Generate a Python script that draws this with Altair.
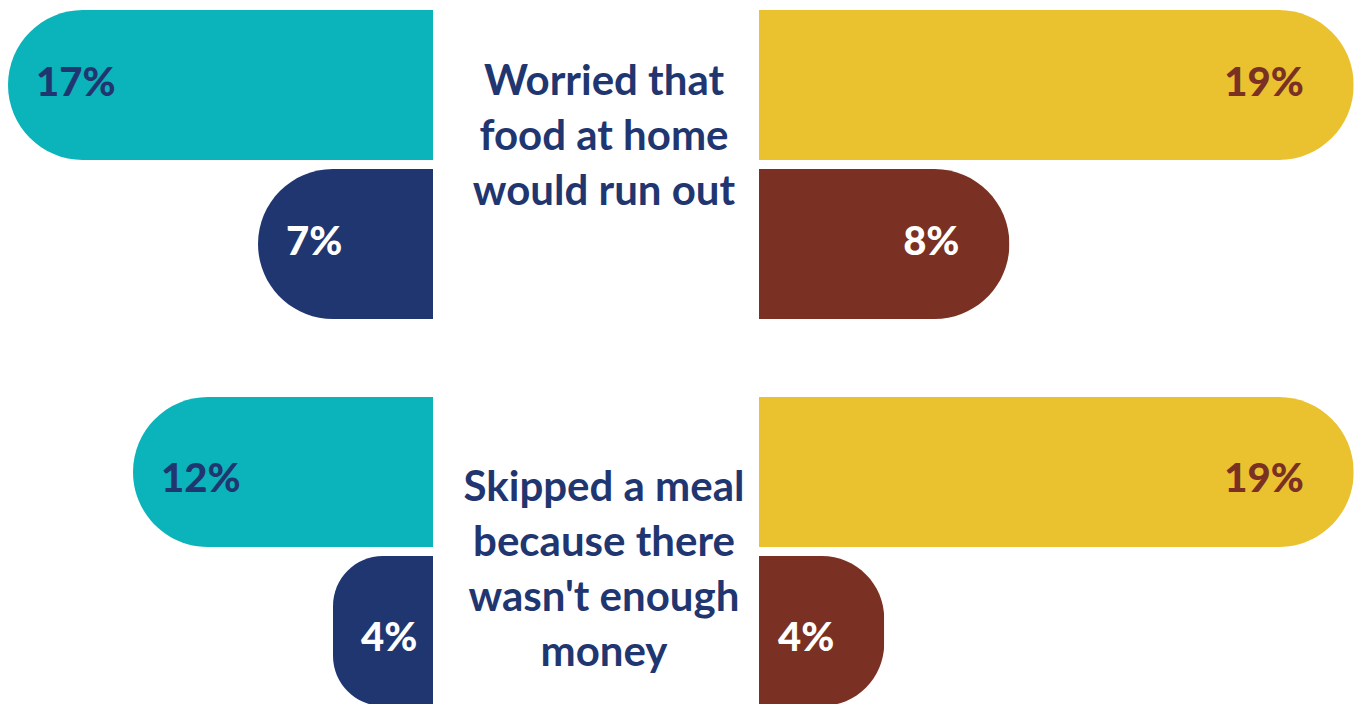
import altair as alt
import pandas as pd

# ---- data ----
topics = ["Worried that\nfood at home\nwould run out",
          "Skipped a meal\nbecause there\nwasn't enough\nmoney"]
left_outer = [17, 12]   # teal bars
left_inner = [7, 4]     # navy bars
right_outer = [19, 19]  # yellow bars
right_inner = [8, 4]    # brown bars

TEAL = "#0BB3BA"
NAVY = "#1F3670"
YELLOW = "#EAC12E"
BROWN = "#7A3022"
FONT = "Lato"

ROW_H = 309
LEFT_W = 425
MID_W = 326
RIGHT_W = 601
text_dy = [-83, -64]
label_dy = [-1, 8]

yscale = alt.Scale(paddingInner=0.0566, paddingOuter=0)


def side(vals, groups, colors, label_colors, domain_max, width, left, ldy):
    df = pd.DataFrame({"group": groups, "value": vals})
    base = alt.Chart(df).transform_calculate(
        label="format(datum.value, 'd') + '%'"
    )
    x = alt.X("value:Q", axis=None,
              scale=alt.Scale(domain=[0, domain_max], reverse=left, nice=False))
    y = alt.Y("group:N", sort=groups, axis=None, scale=yscale)
    if left:
        bar = base.mark_bar(cornerRadiusTopLeft=75, cornerRadiusBottomLeft=75)
        txt = base.mark_text(align="left", baseline="middle", dx=28, dy=ldy,
                             font=FONT, fontSize=40, fontWeight=900)
    else:
        bar = base.mark_bar(cornerRadiusTopRight=75, cornerRadiusBottomRight=75)
        txt = base.mark_text(align="right", baseline="middle", dx=-50, dy=ldy,
                             font=FONT, fontSize=40, fontWeight=900)
    bars = bar.encode(
        x=x, y=y,
        color=alt.condition(alt.datum.group == groups[1],
                            alt.value(colors[1]), alt.value(colors[0])),
    )
    labels = txt.encode(
        x=x, y=y, text="label:N",
        color=alt.condition(alt.datum.group == groups[1],
                            alt.value(label_colors[1]), alt.value(label_colors[0])),
    )
    return alt.layer(bars, labels).properties(width=width, height=ROW_H)


rows = []
for i, topic in enumerate(topics):
    left = side([left_outer[i], left_inner[i]], ["teal", "navy"], [TEAL, NAVY],
                [NAVY, "white"], 17, LEFT_W, True, label_dy[i])
    right = side([right_outer[i], right_inner[i]], ["yellow", "brown"], [YELLOW, BROWN],
                 [BROWN, "white"], 19.2, RIGHT_W, False, label_dy[i])
    mid = alt.Chart(pd.DataFrame({"topic": [topic]})).mark_text(
        align="center", baseline="middle", lineBreak="\n", lineHeight=55,
        font=FONT, fontSize=42, fontWeight="bold",
        color=NAVY, dx=8, dy=text_dy[i],
    ).encode(text="topic:N").properties(width=MID_W, height=ROW_H)
    rows.append(alt.hconcat(left, mid, right, spacing=0))

chart = alt.vconcat(*rows, spacing=78).properties(
    padding={"left": 0, "top": 2, "right": 0, "bottom": 0}
).configure_view(stroke=None).configure_concat(spacing=0)

chart.save("out.html", embed_options={"renderer": "svg", "actions": False})
